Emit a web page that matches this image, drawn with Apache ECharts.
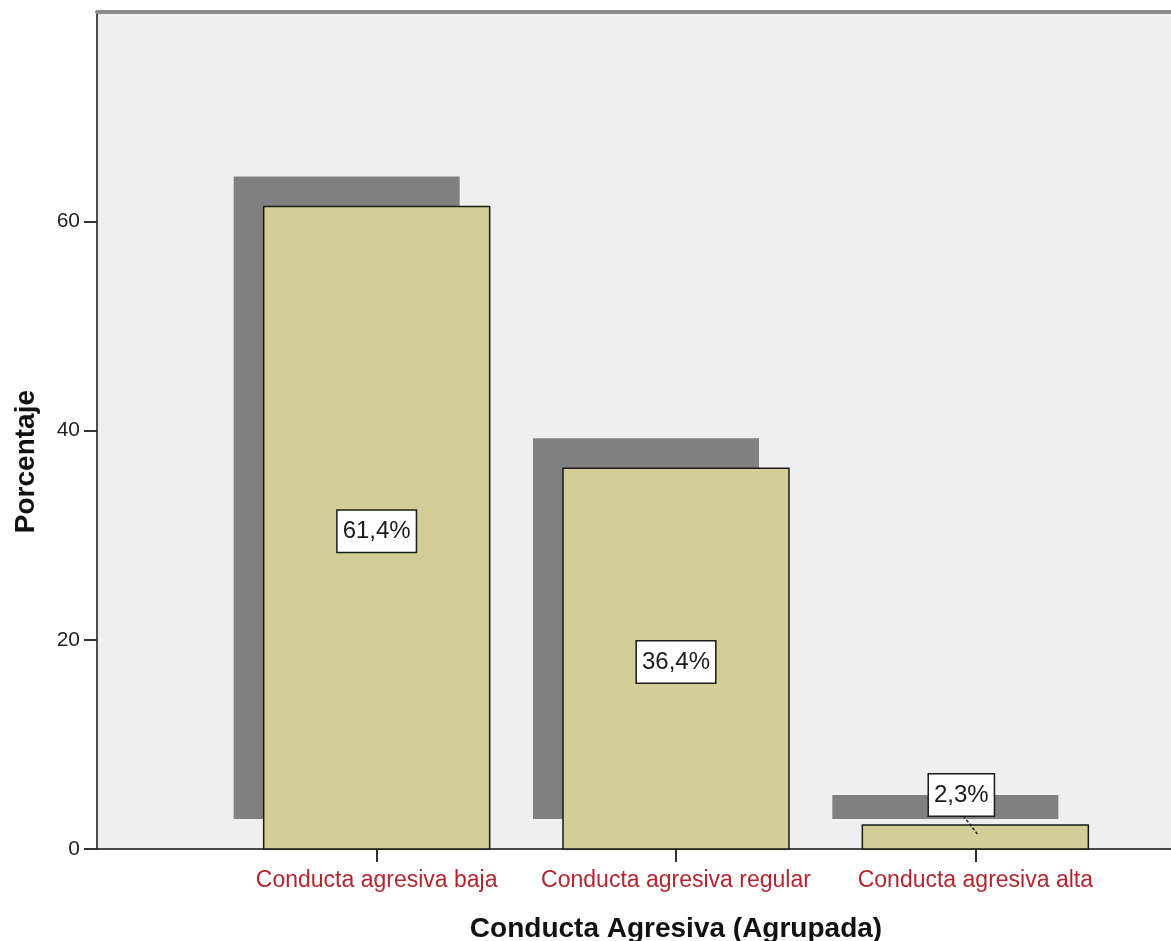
<!DOCTYPE html>
<html>
<head>
<meta charset="utf-8">
<script src="https://cdn.jsdelivr.net/npm/echarts@6/dist/echarts.min.js"></script>
<style>html,body{margin:0;padding:0;background:#fff;}#c{width:1171px;height:941px;}</style>
</head>
<body>
<div id="c"></div>
<script>
const categories = ['Conducta agresiva baja', 'Conducta agresiva regular', 'Conducta agresiva alta'];
const percentages = [61.4, 36.4, 2.3];
const yTicks = [0, 20, 40, 60];

const FONT = 'Liberation Sans, Arial, sans-serif';
const chart = echarts.init(document.getElementById('c'));

function fmt(v) { return v.toFixed(1).replace('.', ',') + '%'; }

const option = {
  animation: false,
  backgroundColor: '#ffffff',
  grid: [
    { left: 97, top: 12, right: -20, bottom: 92, show: true, backgroundColor: '#efefef', borderWidth: 0,
      containLabel: false, outerBoundsMode: 'none' },
    { left: 227, top: 12, right: 46, bottom: 92, containLabel: false, outerBoundsMode: 'none' }
  ],
  xAxis: [
    { gridIndex: 0, type: 'value', min: 0, max: 1, position: 'bottom',
      axisLine: { show: true, lineStyle: { color: '#111', width: 1.5 } },
      axisTick: { show: false }, axisLabel: { show: false }, splitLine: { show: false } },
    { gridIndex: 0, type: 'value', min: 0, max: 1, position: 'top',
      axisLine: { show: true, lineStyle: { color: '#8a8a8a', width: 4 } },
      axisTick: { show: false }, axisLabel: { show: false }, splitLine: { show: false } },
    { gridIndex: 1, type: 'category', data: categories, position: 'bottom',
      axisLine: { show: false },
      axisTick: { show: true, alignWithLabel: true, length: 13, lineStyle: { color: '#333', width: 2 } },
      axisLabel: { interval: 0, hideOverlap: false, margin: 20, fontSize: 23, fontFamily: FONT, color: '#b3262f' },
      name: 'Conducta Agresiva (Agrupada)', nameLocation: 'middle', nameGap: 66,
      nameTextStyle: { fontSize: 28, fontWeight: 'bold', fontFamily: FONT, color: '#111' } }
  ],
  yAxis: [
    { gridIndex: 0, type: 'value', min: 0, max: 80, interval: 20,
      axisLine: { show: true, lineStyle: { color: '#111', width: 1.5 } },
      axisTick: { show: true, length: 13, customValues: yTicks, lineStyle: { color: '#333', width: 2 } },
      axisLabel: { customValues: yTicks, margin: 17, fontSize: 21, fontFamily: FONT, color: '#222' },
      splitLine: { show: false } },
    { gridIndex: 1, type: 'value', min: 0, max: 80, show: false }
  ],
  graphic: [{
    type: 'text', left: 12, top: 390,
    rotation: Math.PI / 2,
    style: { text: 'Porcentaje', font: 'bold 28px ' + FONT, fill: '#111' }
  }],
  series: [{
    type: 'custom',
    xAxisIndex: 2, yAxisIndex: 1,
    data: percentages.map((v, i) => [i, v]),
    renderItem: function (params, api) {
      const idx = api.value(0), val = api.value(1);
      const top = api.coord([idx, val]);
      const base = api.coord([idx, 0]);
      const w = api.size([1, 0])[0] * 0.755;
      const h = base[1] - top[1];
      const off = 30;
      const children = [
        { type: 'rect', shape: { x: top[0] - w / 2 - off, y: top[1] - off, width: w, height: h },
          style: { fill: '#808080' } },
        { type: 'rect', shape: { x: top[0] - w / 2, y: top[1], width: w, height: h },
          style: { fill: '#d3ce97', stroke: '#1a1a1a', lineWidth: 1.5 } }
      ];
      let lx, ly;
      if (h > 60) {
        lx = top[0]; ly = top[1] + h / 2 + 3.5;
      } else {
        lx = top[0] - 14; ly = top[1] - 30;
        children.push({ type: 'line', shape: { x1: lx + 2, y1: ly + 21, x2: top[0] + 2, y2: top[1] + 9 },
          style: { stroke: '#222', lineWidth: 1.5, lineDash: [3, 2] } });
      }
      children.push({ type: 'text', z2: 10,
        style: { text: fmt(val), x: lx, y: ly, align: 'center', verticalAlign: 'middle',
          font: '24px ' + FONT, fill: '#1a1a1a', backgroundColor: '#ffffff',
          borderColor: '#1a1a1a', borderWidth: 1.5, padding: [7, 5, 6, 5], lineHeight: 28 } });
      return { type: 'group', children: children };
    }
  }]
};
chart.setOption(option);
</script>
</body>
</html>
